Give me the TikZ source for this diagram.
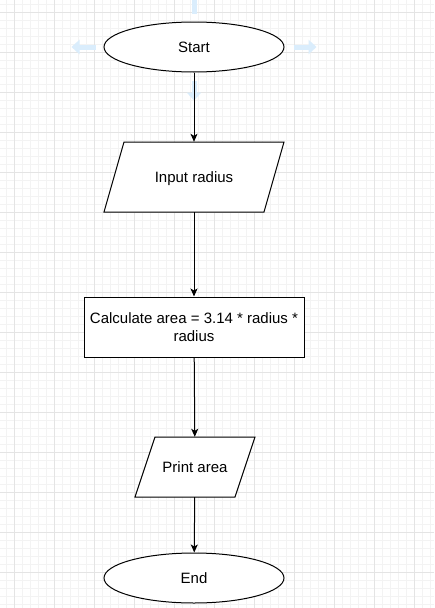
\documentclass[tikz,border=0pt]{standalone}
\usepackage{fontspec}
\setmainfont{Liberation Sans}
\usetikzlibrary{shapes.geometric,arrows.meta}
\definecolor{grillefine}{RGB}{243,243,243}
\definecolor{grille}{RGB}{228,228,228}
\definecolor{survol}{RGB}{218,237,252}

\tikzset{
	bloc/.style={draw, line width=1pt, fill=white, inner sep=0pt, align=center, font=\fontsize{15}{18}\selectfont},
	ligne/.style={text height=10.5pt, text depth=0pt},
	terminal/.style={bloc, ligne, ellipse, minimum width=180, minimum height=50},
	calcul/.style={bloc, rectangle, minimum width=220, minimum height=60},
	texte/.style={ligne, inner sep=0pt, align=center, font=\fontsize{15}{18}\selectfont},
	bord/.style={line width=1pt, fill=white},
	fleche/.style={line width=1pt, -{Stealth[length=8pt, width=7pt, inset=2pt]}},
	survol/.style={line width=5pt, color=survol, -{Triangle[length=8pt, width=14pt]}}
}

\begin{document}
\begin{tikzpicture}[x=1pt, y=-1pt]
		\useasboundingbox (0,0) rectangle (434,608);
		\fill [white] (0,0) rectangle (434,608);
		\foreach \x in {6,14,...,434} \draw [grillefine, line width=0.6pt] (\x,0) -- (\x,608);
		\foreach \y in {4.5,12.5,...,608} \draw [grillefine, line width=0.6pt] (0,\y) -- (434,\y);
		\foreach \x in {14,54,...,434} \draw [grille, line width=0.8pt] (\x,0) -- (\x,608);
		\foreach \y in {12.5,52.5,...,608} \draw [grille, line width=0.8pt] (0,\y) -- (434,\y);
		
		\coordinate (I1) at (124,142);
		\coordinate (I2) at (284,142);
		\coordinate (I3) at (264,212);
		\coordinate (I4) at (104,212);
		\coordinate (P1) at (155,437);
		\coordinate (P2) at (255,437);
		\coordinate (P3) at (235,497);
		\coordinate (P4) at (135,497);
		
		\draw [bord] (I1) -- (I2) -- (I3) -- (I4) -- cycle;
		\draw [bord] (P1) -- (P2) -- (P3) -- (P4) -- cycle;
		
		\node [terminal] (start) at (194,47) {Start};
		\node [texte, minimum width=160, minimum height=70] (input) at (194,177) {Input radius};
		\node [calcul] (calc) at (194,327) {Calculate area = 3.14 * radius *\\radius};
		\node [texte, minimum width=100, minimum height=60] (print) at (195,467) {Print area};
		\node [terminal] (end) at (194,578) {End};
		
		\draw [survol] ([xshift=-8pt]start.west) -- ([xshift=-32pt]start.west);
		\draw [survol] ([xshift=9pt]start.east) -- ([xshift=32pt]start.east);
		\draw [survol] ([yshift=8pt]start.north) -- ([yshift=44pt]start.north);
		\draw [survol] ([yshift=-8pt]start.south) -- ([yshift=-28pt]start.south);
		
		\draw [fleche] (start) -- (input);
		\draw [fleche] (input) -- (calc);
		\draw [fleche] (calc) -- (print);
		\draw [fleche] (print) -- (end);
	\end{tikzpicture}
\end{document}
